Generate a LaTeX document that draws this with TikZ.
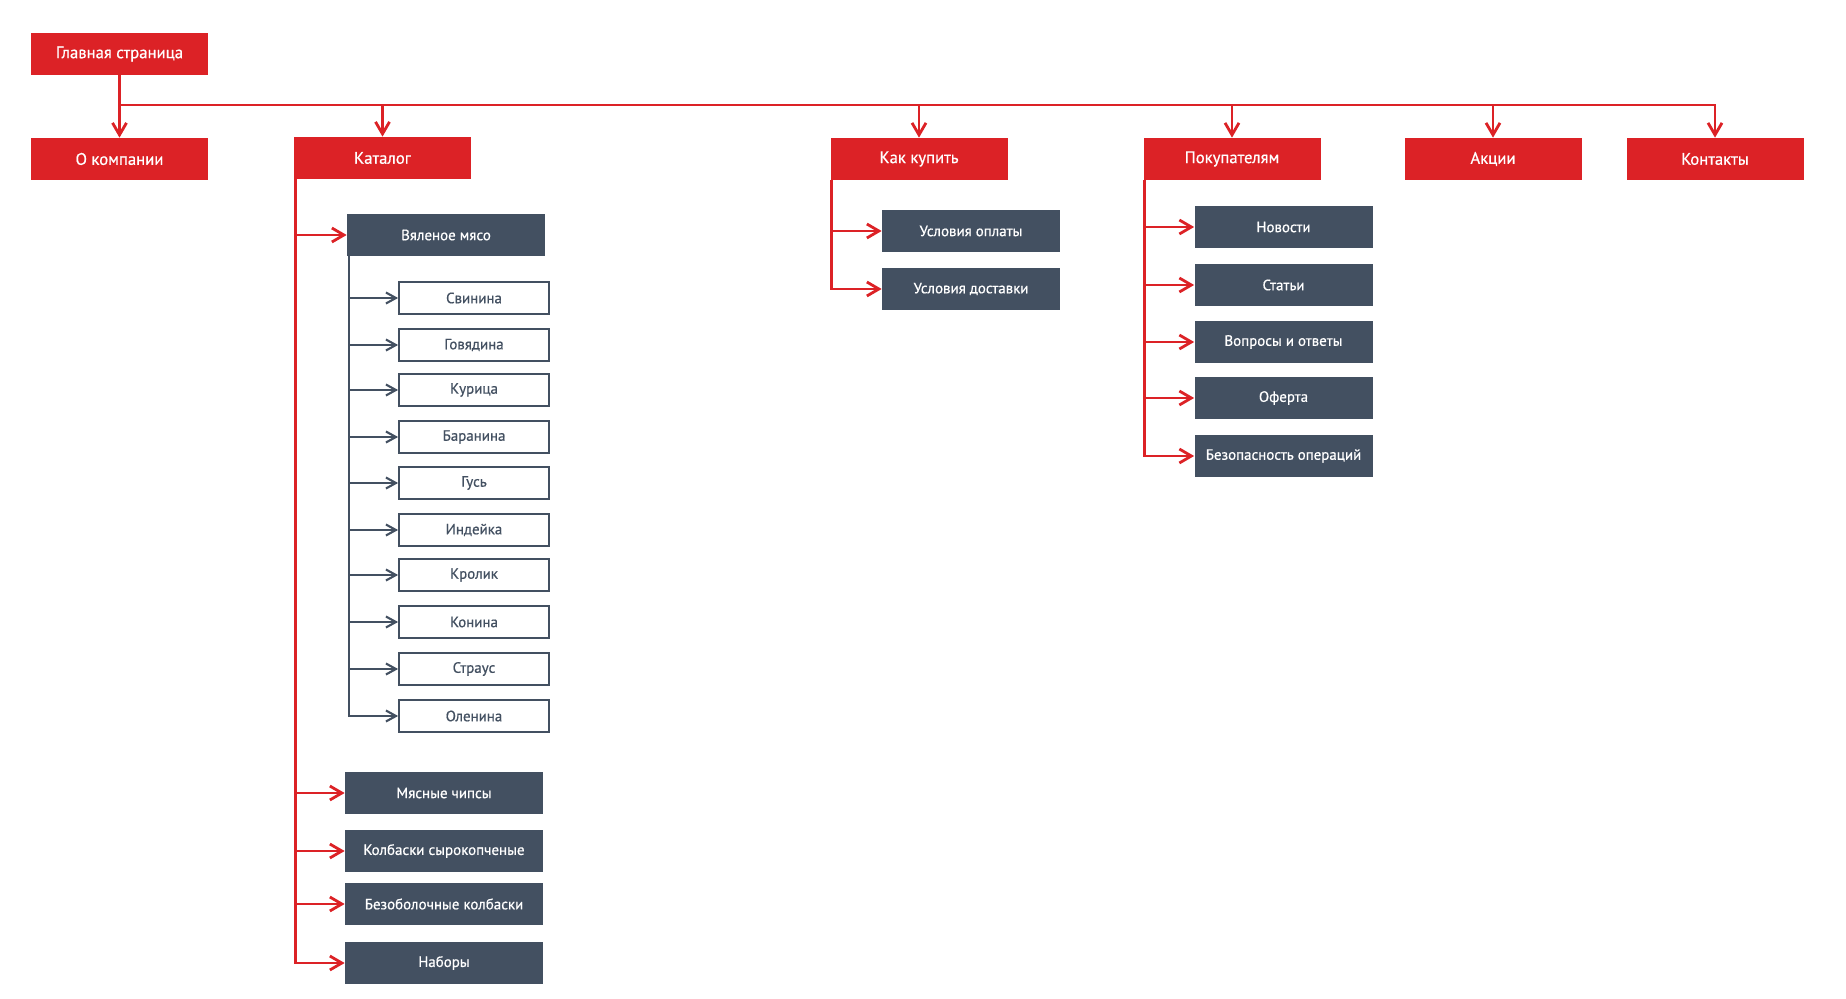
\documentclass[tikz,border=0pt]{standalone}
\usepackage{fontspec}
\setmainfont{PT Sans}[FakeBold=0.6]
\usepackage{xcolor}
\usetikzlibrary{arrows.meta}
\definecolor{MenuC}{HTML}{DC2226}
\definecolor{SubC}{HTML}{435061}

\tikzset{
  menubox/.style={fill=MenuC,text=white,minimum width=3.54cm,minimum height=0.84cm,
    inner sep=0pt,font=\fontsize{9.5}{11}\selectfont},
  subbox/.style={fill=SubC,text=white,minimum width=3.56cm,minimum height=0.84cm,
    inner sep=0pt,font=\fontsize{8.5}{10}\selectfont},
  leafbox/.style={draw=SubC,line width=1pt,text=SubC,fill=white,minimum width=3.0cm,
    minimum height=0.64cm,inner sep=0pt,font=\fontsize{8.5}{10}\selectfont},
  redarrow/.style={draw=MenuC,line width=1.6pt,-{Straight Barb[length=2.4mm,width=2.8mm]}},
  grayarrow/.style={draw=SubC,line width=1.2pt,-{Straight Barb[length=2mm,width=2.2mm]}},
}

\begin{document}
\begin{tikzpicture}[x=1cm,y=1cm]
\useasboundingbox (0,0) rectangle (36.92,-19.98);

% ---------- top level ----------
\node[menubox] (home)  at (2.39,-1.08)  {Главная страница};
\node[menubox] (about) at (2.39,-3.18)  {О компании};
\node[menubox] (kat)   at (7.65,-3.16)  {Каталог};
\node[menubox] (how)   at (18.38,-3.18) {Как купить};
\node[menubox] (buy)   at (24.64,-3.18) {Покупателям};
\node[menubox] (sale)  at (29.86,-3.18) {Акции};
\node[menubox] (cont)  at (34.30,-3.18) {Контакты};

\coordinate (bus) at (0,-2.10);
\draw[redarrow] (home.south) -- (about.north);
\draw[redarrow] (home.south |- bus) -- (cont.north |- bus) -- (cont.north);
\foreach \n in {kat,how,buy,sale}
  \draw[redarrow] (\n.north |- bus) -- (\n.north);

% ---------- catalog ----------
\coordinate (katT) at ([xshift=0.04cm]kat.south west);
\node[subbox,minimum width=3.96cm] (dry) at (8.92,-4.70) {Вяленое мясо};
\draw[redarrow] (katT) |- (dry.west);

\coordinate (dryT) at ([xshift=0.04cm]dry.south west);
\foreach \n/\t/\y in {svin/Свинина/-5.96,gov/Говядина/-6.90,kur/Курица/-7.80,
    bar/Баранина/-8.74,gus/Гусь/-9.66,ind/Индейка/-10.60,krol/Кролик/-11.50,
    kon/Конина/-12.44,str/Страус/-13.38,olen/Оленина/-14.32}{
  \node[leafbox] (\n) at (9.48,\y) {\t};
  \draw[grayarrow] (dryT) |- (\n.west);}

\foreach \n/\t/\y in {chips/Мясные чипсы/-15.86,kolb/Колбаски сырокопченые/-17.02,
    bezob/Безоболочные колбаски/-18.08,nab/Наборы/-19.26}{
  \node[subbox,minimum width=3.96cm] (\n) at (8.88,\y) {\t};
  \draw[redarrow] (katT) |- (\n.west);}

% ---------- how to buy ----------
\coordinate (howT) at ([xshift=0.03cm]how.south west);
\foreach \n/\t/\y in {pay/Условия оплаты/-4.62,deliv/Условия доставки/-5.78}{
  \node[subbox] (\n) at (19.42,\y) {\t};
  \draw[redarrow] (howT) |- (\n.west);}

% ---------- for customers ----------
\coordinate (buyT) at ([xshift=0.03cm]buy.south west);
\foreach \n/\t/\y in {news/Новости/-4.54,art/Статьи/-5.70,faq/Вопросы и ответы/-6.84,
    ofer/Оферта/-7.96,safe/Безопасность операций/-9.12}{
  \node[subbox] (\n) at (25.67,\y) {\t};
  \draw[redarrow] (buyT) |- (\n.west);}
\end{tikzpicture}
\end{document}
